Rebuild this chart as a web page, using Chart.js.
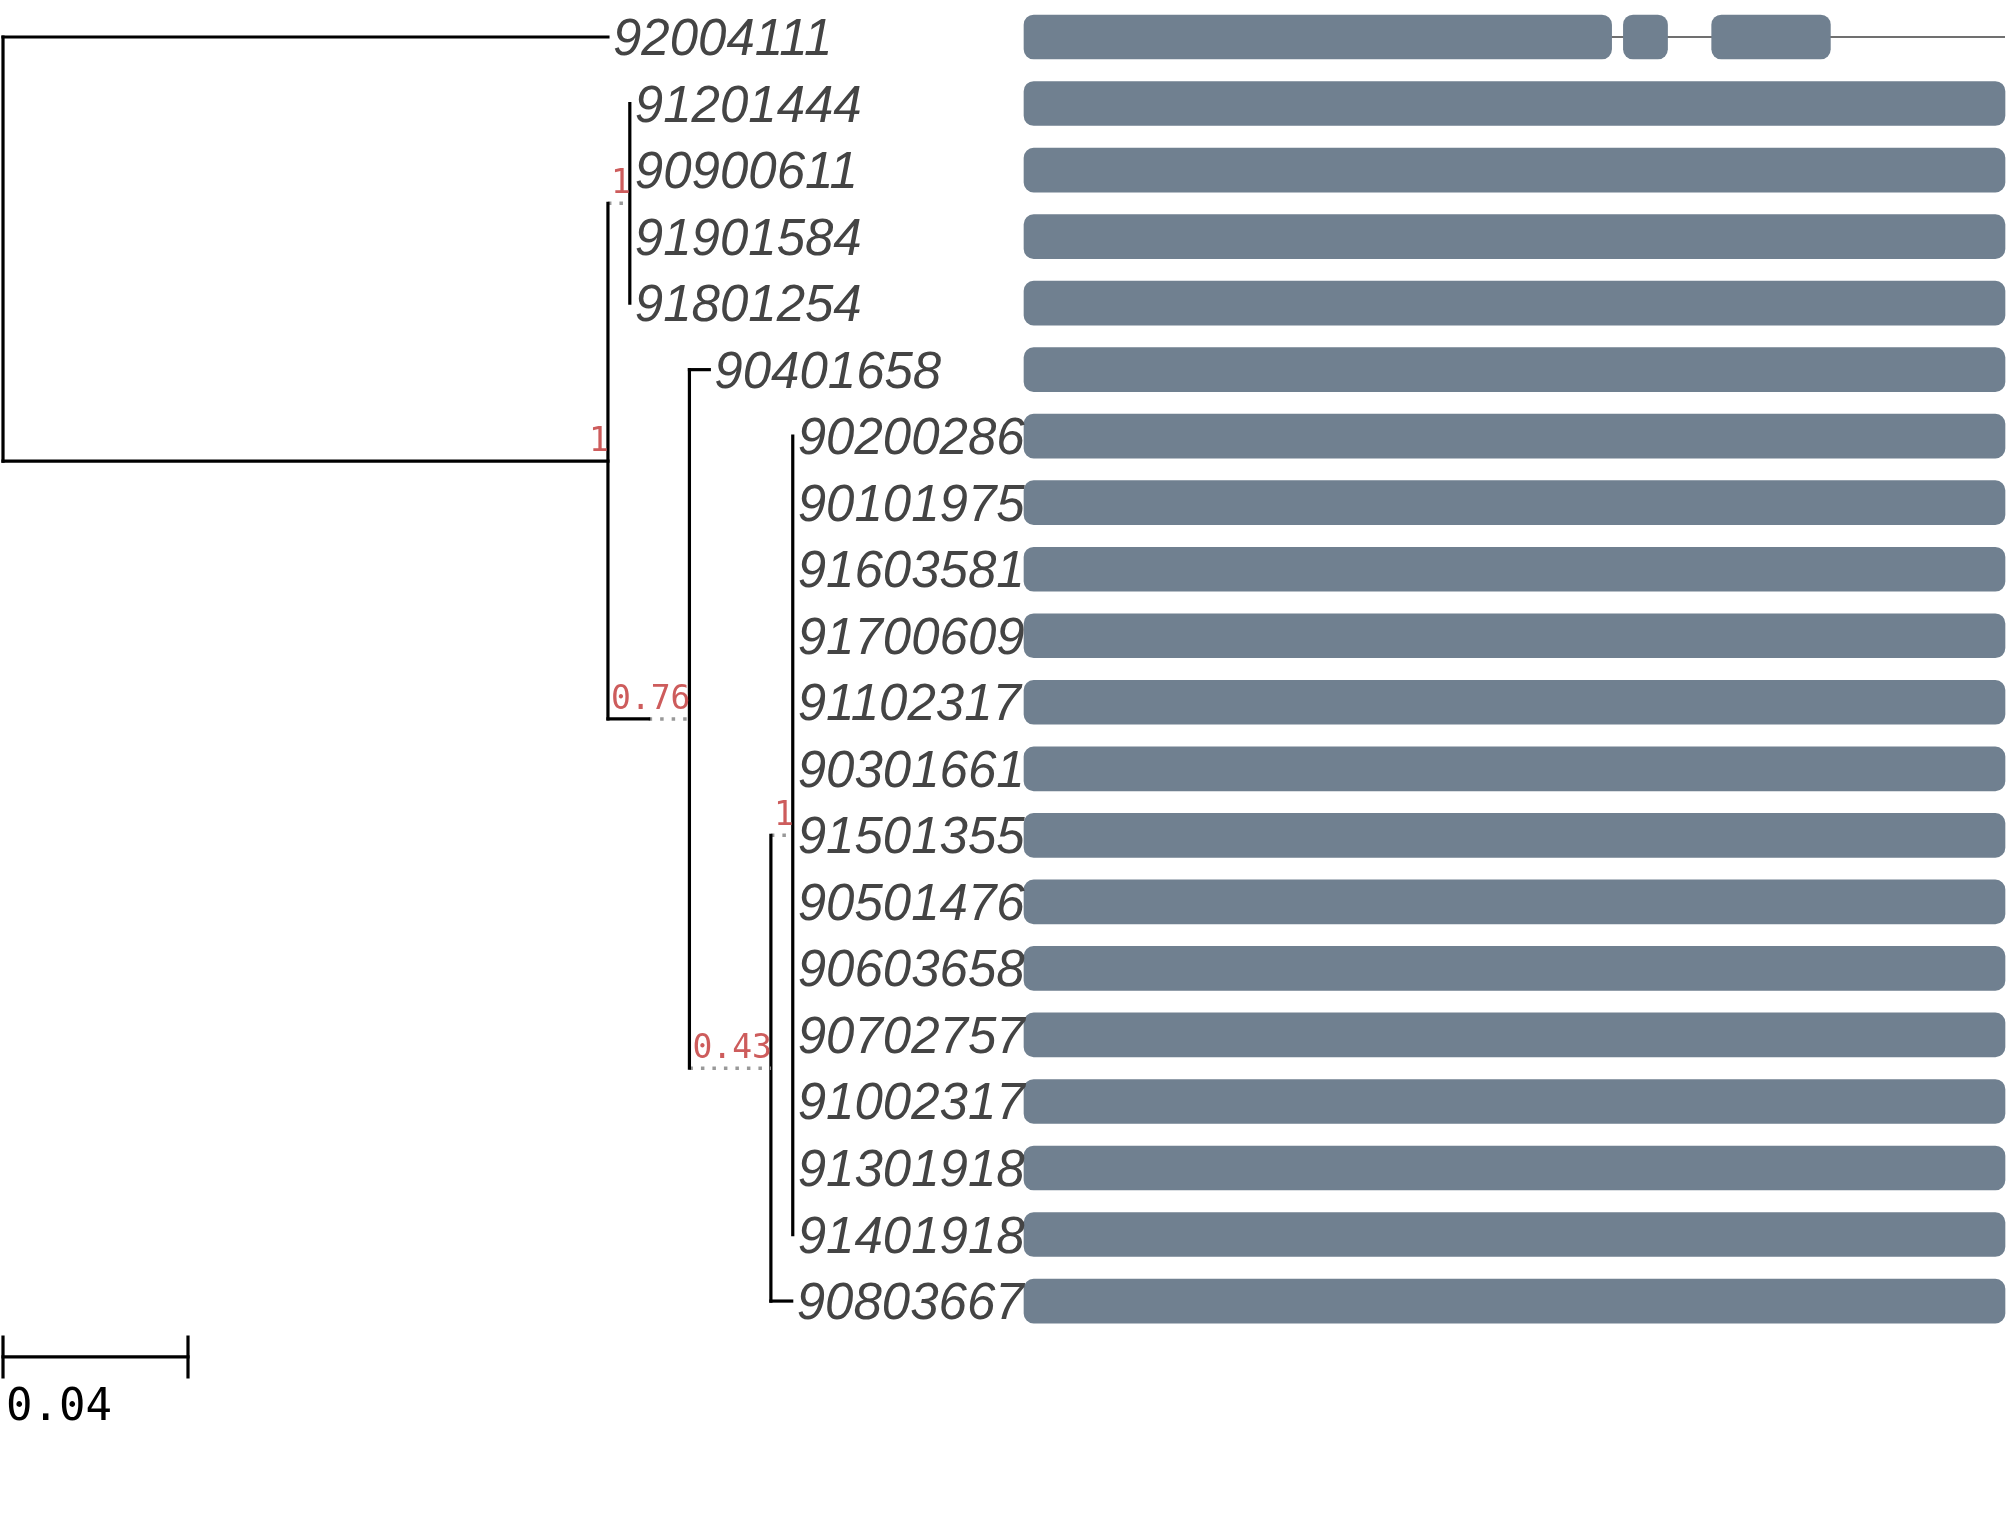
<!DOCTYPE html>
<html><head><meta charset="utf-8">
<script src="https://cdn.jsdelivr.net/npm/chart.js@4.4.1/dist/chart.umd.min.js"></script>
<style>html,body{margin:0;padding:0;background:#fff;overflow:hidden}#wrap{width:2007px;height:1523px}</style>
</head><body><div id="wrap"><canvas id="c" width="2007" height="1523"></canvas></div>
<script>
// ---- Tree data (node id, parent, branch length, support) ----
const nodeIds = ['root','92004111','A','B','91201444','90900611','91901584','91801254',
  'C','90401658','D','E','90200286','90101975','91603581','91700609','91102317','90301661',
  '91501355','90501476','90603658','90702757','91002317','91301918','91401918','90803667'];
const nodeParents = [null,'root','root','A','B','B','B','B',
  'A','C','C','D','E','E','E','E','E','E',
  'E','E','E','E','E','E','E','D'];
const branchLengths = [0,0.1308,0.1308,0,0,0,0,0,
  0.0088,0.0043,0,0,0,0,0,0,0,0,
  0,0,0,0,0,0,0,0.0045];
const supportValues = [null,null,'1','1',null,null,null,null,
  '0.76',null,'0.43','1',null,null,null,null,null,null,
  null,null,null,null,null,null,null,null];
// ---- Scale bar ----
const scaleBarLength = 0.04;
const scaleBarLabel = '0.04';
// ---- Gene structure (alignment coordinates, 0..100) ----
const fullSpan = [0, 100];
const partialLeaf = '92004111';
const partialSegments = [[0, 59.9], [61.1, 65.6], [70.1, 82.2]];

// ---- Scales ----
const X_MIN = -0.00065, X_MAX = 0.4333;
const X2_MIN = -104.383, X2_MAX = 100.204;
const Y_MIN = -0.556, Y_MAX = 22.336;
const W = 2007;
const ppu = W / (X_MAX - X_MIN);
const supportFont = '33px "DejaVu Sans Mono"';
const leafFont = 'italic 51px "Liberation Sans"';
const scaleFont = '44px "DejaVu Sans Mono"';

const mctx = document.createElement('canvas').getContext('2d');
mctx.font = supportFont;

// ---- Build layout from tree ----
const idx = {}; nodeIds.forEach((n,i)=>idx[n]=i);
const children = {}; nodeIds.forEach(n=>children[n]=[]);
nodeParents.forEach((p,i)=>{ if(p) children[p].push(nodeIds[i]); });
const pos = {};
let row = 0;
const leaves = [];
function place(n, parentX){
  const i = idx[n];
  const len = branchLengths[i];
  let ext = 0;
  if (supportValues[i] && nodeParents[i]) {
    const need = (mctx.measureText(supportValues[i]).width + 2) / ppu;
    ext = Math.max(0, need - len);
  }
  const x = parentX + len + ext;
  pos[n] = {x, px: parentX, len, ext};
  if (children[n].length === 0) { pos[n].y = row++; leaves.push(n); }
  else {
    children[n].forEach(c=>place(c, x));
    const ch = children[n];
    pos[n].y = (pos[ch[0]].y + pos[ch[ch.length-1]].y)/2;
  }
}
place('root', 0);

const datasets = [];
function seg(x1,y1,x2,y2,dotted){
  datasets.push({type:'line', xAxisID:'x', yAxisID:'y', data:[{x:x1,y:y1},{x:x2,y:y2}],
    borderColor: dotted ? '#999999' : '#000', borderWidth: dotted ? 3.5 : 3.2,
    borderDash: dotted ? [3.5,8] : [], borderCapStyle: dotted ? 'butt' : 'square',
    pointRadius:0, tension:0, order:0});
}
nodeIds.forEach(n=>{
  const p = pos[n];
  if (nodeParents[idx[n]]) {
    if (p.len > 0) seg(p.px, p.y, p.px + p.len, p.y, false);
    if (p.ext > 0) seg(p.px + p.len, p.y, p.x, p.y, true);
  }
  const ch = children[n];
  if (ch.length) seg(p.x, pos[ch[0]].y, p.x, pos[ch[ch.length-1]].y, false);
});

// scale bar
const sbRow = 19.84;
seg(0, sbRow, scaleBarLength, sbRow, false);
seg(0, sbRow-0.3, 0, sbRow+0.3, false);
seg(scaleBarLength, sbRow-0.3, scaleBarLength, sbRow+0.3, false);

// gene bars
const barData = [];
leaves.forEach(n=>{
  const y = pos[n].y;
  if (n === partialLeaf) partialSegments.forEach(s=>barData.push({y, x:[s[0], s[1]]}));
  else barData.push({y, x:[fullSpan[0], fullSpan[1]]});
});
datasets.push({type:'line', xAxisID:'x2', yAxisID:'y',
  data:[{x:fullSpan[0], y:pos[partialLeaf].y},{x:fullSpan[1], y:pos[partialLeaf].y}],
  borderColor:'#707070', borderWidth:2, pointRadius:0, order:3});
datasets.push({type:'bar', indexAxis:'y', xAxisID:'x2', yAxisID:'y', data:barData,
  backgroundColor:'#708090', barThickness:44, borderRadius:10, borderSkipped:false,
  grouped:false, order:2});

const textPlugin = {
  id:'treeText',
  afterDatasetsDraw(chart){
    const ctx = chart.ctx, xs = chart.scales.x, ys = chart.scales.y;
    ctx.save();
    ctx.textBaseline = 'alphabetic';
    ctx.font = leafFont; ctx.fillStyle = '#444444'; ctx.textAlign = 'left';
    leaves.forEach(n=>{
      ctx.fillText(n, xs.getPixelForValue(pos[n].x) + 5, ys.getPixelForValue(pos[n].y) + 18);
    });
    ctx.font = supportFont; ctx.fillStyle = '#cd5c5c'; ctx.textAlign = 'right';
    nodeIds.forEach((n,i)=>{
      if (supportValues[i] && nodeParents[i]) {
        ctx.fillText(supportValues[i], xs.getPixelForValue(pos[n].x) + 1, ys.getPixelForValue(pos[n].y) - 10);
      }
    });
    ctx.font = scaleFont; ctx.fillStyle = '#000'; ctx.textAlign = 'left';
    ctx.fillText(scaleBarLabel, xs.getPixelForValue(0) + 3, ys.getPixelForValue(sbRow) + 63);
    ctx.restore();
  }
};

new Chart(document.getElementById('c'), {
  type:'scatter',
  data:{datasets},
  options:{
    responsive:false, devicePixelRatio:1, animation:false, events:[],
    layout:{padding:0},
    plugins:{legend:{display:false}, tooltip:{enabled:false}},
    scales:{
      x:{type:'linear', min:X_MIN, max:X_MAX, display:false, offset:false},
      x2:{type:'linear', axis:'x', position:'top', min:X2_MIN, max:X2_MAX, display:false, offset:false},
      y:{type:'linear', min:Y_MIN, max:Y_MAX, reverse:true, display:false, offset:false}
    }
  },
  plugins:[textPlugin]
});
</script></body></html>
